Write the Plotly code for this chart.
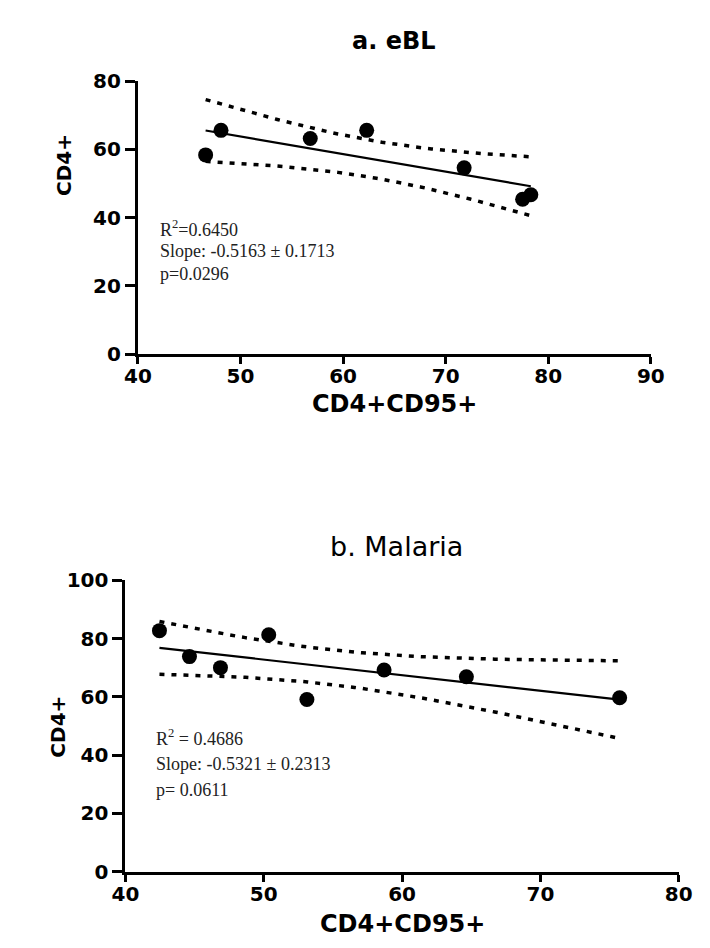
import numpy as np
import plotly.graph_objects as go

# Panel a: eBL
ebl_cd4cd95 = [46.6, 48.1, 56.8, 62.3, 71.8, 77.5, 78.3]
ebl_cd4 = [58.4, 65.6, 63.2, 65.6, 54.6, 45.4, 46.7]
ebl_stats = ["R<sup>2</sup>=0.6450", "Slope: -0.5163 ± 0.1713", "p=0.0296"]

# Panel b: Malaria
mal_cd4cd95 = [42.46, 44.63, 46.87, 50.36, 53.12, 58.70, 64.65, 75.73]
mal_cd4 = [82.7, 73.8, 70.0, 81.3, 59.1, 69.2, 66.9, 59.7]
mal_stats = ["R<sup>2</sup> = 0.4686", "Slope: -0.5321 ± 0.2313", "p= 0.0611"]

# two-sided 95% t critical values by degrees of freedom
T975 = {5: 2.5706, 6: 2.4469}

W, H = 710, 948
BOLD = "DejaVu Sans"
SERIF = "Liberation Serif, Times New Roman, serif"


def fit_with_band(x, y, n_pts=60):
    x = np.asarray(x, float)
    y = np.asarray(y, float)
    n = len(x)
    slope, intercept = np.polyfit(x, y, 1)
    resid = y - (slope * x + intercept)
    s = np.sqrt(np.sum(resid ** 2) / (n - 2))
    sxx = np.sum((x - x.mean()) ** 2)
    xs = np.linspace(x.min(), x.max(), n_pts)
    yhat = slope * xs + intercept
    half = T975[n - 2] * s * np.sqrt(1.0 / n + (xs - x.mean()) ** 2 / sxx)
    return xs, yhat, yhat - half, yhat + half


fig = go.Figure()


def add_panel(idx, x, y):
    xa = "x" if idx == 1 else f"x{idx}"
    ya = "y" if idx == 1 else f"y{idx}"
    xs, yhat, lo, hi = fit_with_band(x, y)
    for band in (hi, lo):
        fig.add_trace(go.Scatter(x=xs, y=band, mode="lines", xaxis=xa, yaxis=ya,
                                 line=dict(color="black", width=3.5, dash="5px,7px"),
                                 hoverinfo="skip", showlegend=False))
    fig.add_trace(go.Scatter(x=xs, y=yhat, mode="lines", xaxis=xa, yaxis=ya,
                             line=dict(color="black", width=2.2),
                             showlegend=False))
    fig.add_trace(go.Scatter(x=x, y=y, mode="markers", xaxis=xa, yaxis=ya,
                             marker=dict(color="black", size=15, symbol="circle"),
                             showlegend=False))


add_panel(1, ebl_cd4cd95, ebl_cd4)
add_panel(2, mal_cd4cd95, mal_cd4)


def px_x(p):
    return p / W


def px_y(p):
    return 1 - p / H


tickfont = dict(family=BOLD, size=20, color="black", weight="bold")
x_axis_style = dict(
    showline=True, linecolor="black", linewidth=3,
    ticks="outside", ticklen=7, tickwidth=3, tickcolor="black",
    showgrid=False, zeroline=False, mirror=False,
    tickfont=tickfont, ticklabelstandoff=-5,
)
y_axis_style = dict(
    showline=True, linecolor="black", linewidth=3,
    ticks="outside", ticklen=10, tickwidth=3, tickcolor="black",
    showgrid=False, zeroline=False, mirror=False,
    tickfont=tickfont,
)

fig.update_layout(
    width=W, height=H,
    margin=dict(l=0, r=0, t=0, b=0),
    paper_bgcolor="white", plot_bgcolor="white",
    showlegend=False,
    xaxis=dict(domain=[px_x(129), px_x(663)], range=[40, 90], tickvals=[40, 50, 60, 70, 80, 90],
               anchor="y", **x_axis_style),
    yaxis=dict(domain=[px_y(351), px_y(71)], range=[0, 80], tickvals=[0, 20, 40, 60, 80],
               anchor="x", **y_axis_style),
    xaxis2=dict(domain=[px_x(116), px_x(692)], range=[40, 80], tickvals=[40, 50, 60, 70, 80],
                anchor="y2", **x_axis_style),
    yaxis2=dict(domain=[px_y(882), px_y(583)], range=[0, 100], tickvals=[0, 20, 40, 60, 80, 100],
                anchor="x2", **y_axis_style),
)

annotations = []

# panel titles
annotations.append(dict(text="a. eBL", x=px_x(396), y=px_y(30), xref="paper", yref="paper",
                        showarrow=False, xanchor="center", yanchor="middle",
                        font=dict(family=BOLD, size=24, color="black", weight="bold")))
annotations.append(dict(text="b. Malaria", x=px_x(398), y=px_y(548), xref="paper", yref="paper",
                        showarrow=False, xanchor="center", yanchor="middle",
                        font=dict(family=BOLD, size=27, color="black")))

# axis titles
for txt, xp, yp, ang, sz in [("CD4+CD95+", 396, 402, 0, 24), ("CD4+", 52, 157, -90, 20),
                             ("CD4+CD95+", 404, 936, 0, 24), ("CD4+", 46, 733, -90, 20)]:
    annotations.append(dict(text=txt, x=px_x(xp), y=px_y(yp), xref="paper", yref="paper",
                            showarrow=False, xanchor="center", yanchor="middle", textangle=ang,
                            font=dict(family=BOLD, size=sz, color="black", weight="bold")))

# regression statistics
for lines, xr, yr, x0, ys, sz in [(ebl_stats, "x", "y", 42.0, [36.8, 30.2, 23.6], 18),
                                  (mal_stats, "x2", "y2", 42.1, [46.0, 36.9, 28.1], 18)]:
    for txt, yv in zip(lines, ys):
        annotations.append(dict(text=txt, x=x0, y=yv, xref=xr, yref=yr, showarrow=False,
                                xanchor="left", yanchor="middle",
                                font=dict(family=SERIF, size=sz, color="#222")))

fig.update_layout(annotations=annotations)

fig.write_html("out.html")
